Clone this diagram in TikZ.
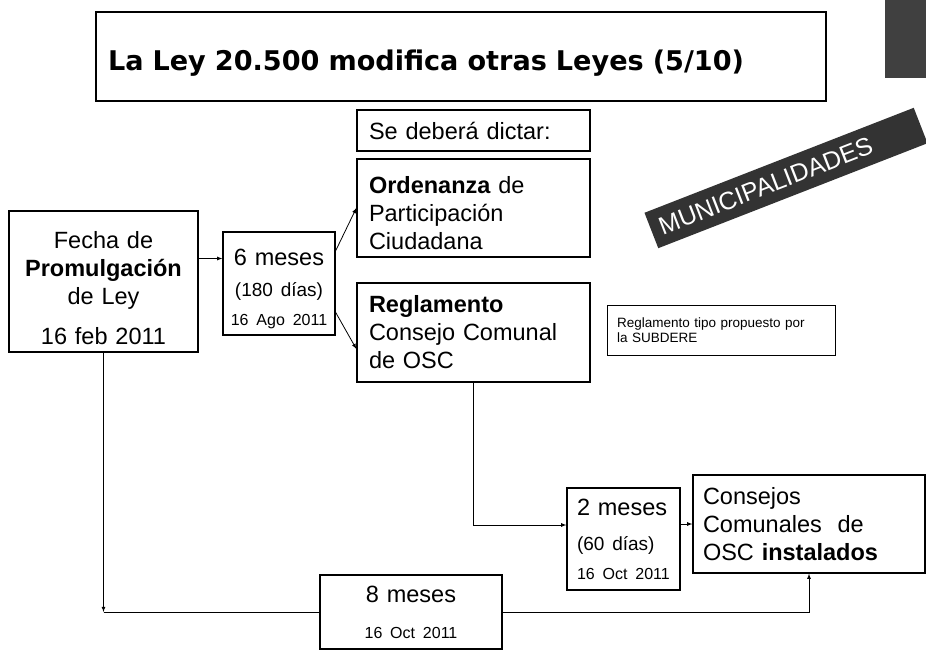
\documentclass[tikz,border=0pt]{standalone}
\usepackage{fontspec}
\setmainfont{Liberation Sans}
\newfontfamily\titlefont{DejaVu Sans}
\usepackage{tikz}
\usetikzlibrary{arrows,positioning}

\begin{document}
\begin{tikzpicture}[x=1pt, y=-1pt, >=latex, thick]
\tikzstyle{every node} = [font=\fontsize{23.5}{28}\selectfont]
\tikzstyle{caja} = [draw, rectangle, line width=1.3pt, inner sep=0pt]
\tikzstyle{flecha} = [->, line width=0.8pt]
\path[use as bounding box, fill=white] (0,0) rectangle (926,650);
\fill[black!75] (885,0) rectangle (926,78);
\node[caja, text width=706, inner xsep=12, text height=34, minimum height=89, align=left, font=\titlefont\bfseries\fontsize{27.1}{30}\selectfont] (titulo) at (461,56.5) {La Ley 20.500 modifica otras Leyes (5/10)};
\node[rotate=21.3, fill=black!80, text=white, inner sep=0pt, inner xsep=9, minimum height=38, text width=271, align=left, font=\fontsize{25}{27}\selectfont] (banda) at (786,178) {MUNICIPALIDADES};
\node[caja, text width=209, inner xsep=12, minimum height=41, align=left] (dictar) at (473.5,130.5) {Se deberá dictar:};
\node[caja, text width=209, inner xsep=12, minimum height=98, align=left] (ordenanza) at (473.5,208) {\rule{0pt}{27pt}\textbf{Ordenanza} de\\Participación\\Ciudadana};
\node[caja, text width=209, inner xsep=12, minimum height=99, align=left] (reglamento) at (473.5,332.5) {\textbf{Reglamento}\\Consejo Comunal\\de OSC};
\node[caja, text width=180, inner xsep=4.5, minimum height=141, align=center] (fecha) at (103.5,281.5) {\rule{0pt}{31pt}Fecha de\\\textbf{Promulgación}\\de Ley\\[12pt]16 feb 2011};
\node[caja, text width=106, inner xsep=3, minimum height=103, align=center] (seis) at (279,283.5) {\rule{0pt}{27pt}6 meses\\[3pt]{\fontsize{19}{22}\selectfont (180 días)}\\[1pt]{\fontsize{16}{20}\selectfont 16 Ago 2011}};
\node[caja, line width=0.8pt, text width=208, inner xsep=10, minimum height=50, align=left, font=\fontsize{13.5}{15}\selectfont] (nota) at (721,330) {Reglamento tipo propuesto por\\la SUBDERE};
\node[caja, text width=103, inner xsep=5, minimum height=102, align=left] (dos) at (623.5,539) {\hspace{5pt}2 meses\\[7pt]\hspace{5pt}{\fontsize{19}{22}\selectfont (60 días)}\\[1pt]\hspace{5pt}{\fontsize{16}{20}\selectfont 16 Oct 2011}};
\node[caja, text width=212, inner xsep=10, minimum height=98, align=left] (consejos) at (809,524) {Consejos\\Comunales\ \ de\\OSC \textbf{instalados}};
\node[caja, text width=174, inner xsep=4, minimum height=74, align=center] (ocho) at (411,612) {8 meses\\[8pt]{\fontsize{16}{20}\selectfont 16 Oct 2011}};
\draw[flecha] ([yshift=23pt]fecha.east) -- ([yshift=23pt]fecha.east -| seis.west);
\draw[flecha] (seis.30) -- (ordenanza.west);
\draw[flecha] (seis.-27) -- (reglamento.188);
\draw[flecha] (reglamento.south) |- ([yshift=14pt]dos.west);
\draw[flecha] (dos.east |- consejos.west) -- (consejos.west);
\coordinate (esquina) at (fecha.south |- ocho.west);
\draw[flecha] (fecha.south) -- (esquina);
\draw[line width=0.8pt] (esquina) -- (ocho.west);
\draw[flecha] (ocho.east) -| (consejos.south);
\end{tikzpicture}
\end{document}
